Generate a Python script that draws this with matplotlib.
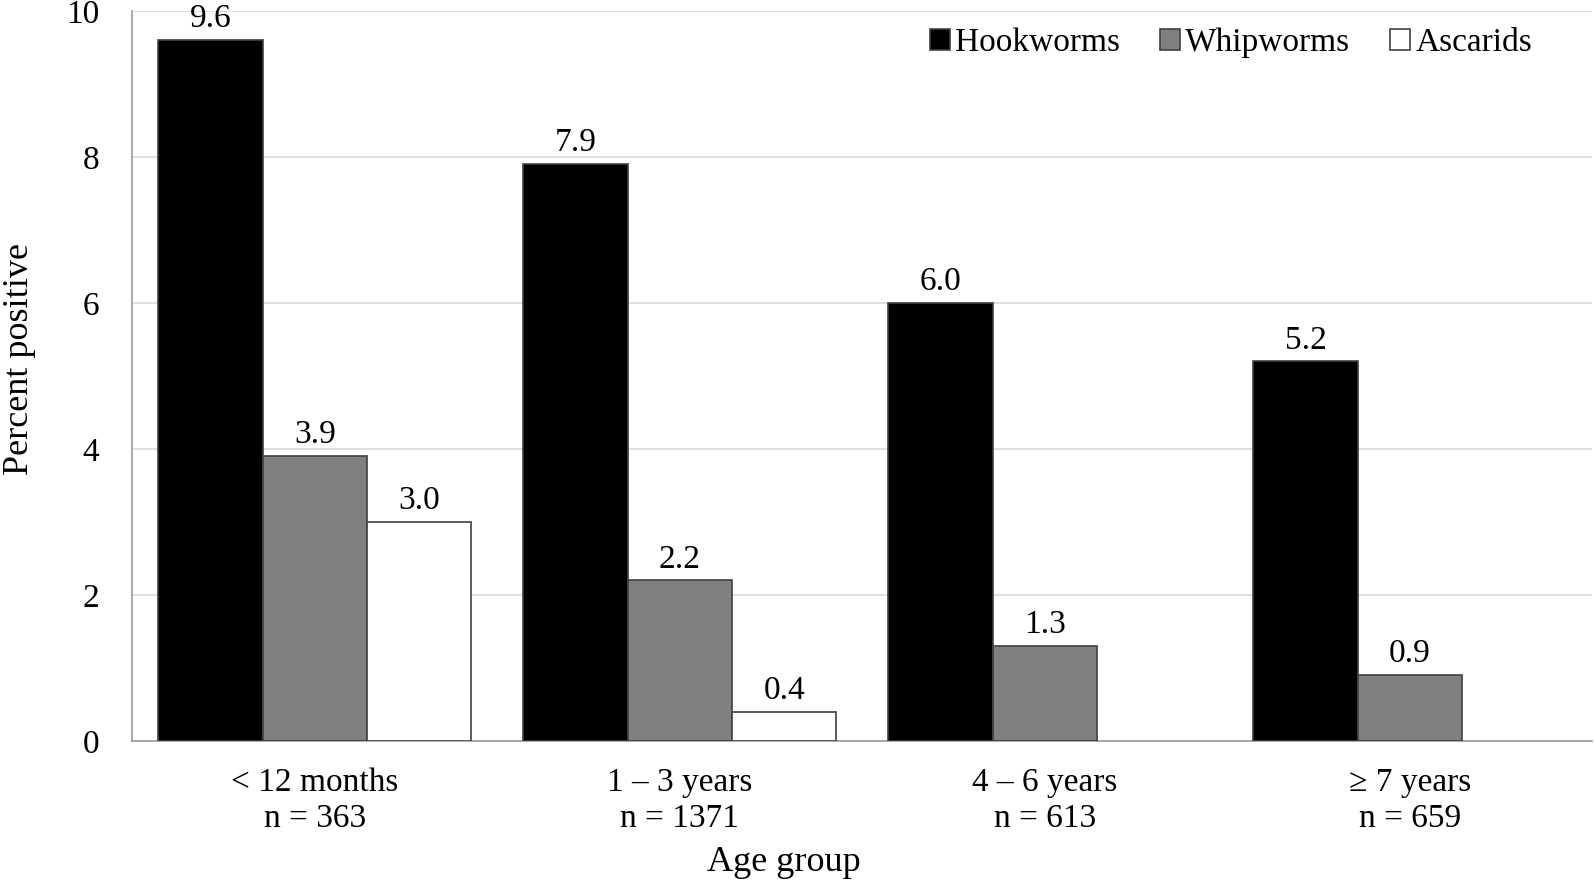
import numpy as np
import matplotlib
matplotlib.use("Agg")
import matplotlib.pyplot as plt

# data
groups = ["< 12 months\nn = 363", "1 \u2013 3 years\nn = 1371", "4 \u2013 6 years\nn = 613", "\u2265 7 years\nn = 659"]
hookworms = [9.6, 7.9, 6.0, 5.2]
whipworms = [3.9, 2.2, 1.3, 0.9]
ascarids = [3.0, 0.4, 0.0, 0.0]

series_names = ["Hookworms", "Whipworms", "Ascarids"]
series_colors = ["#000000", "#808080", "#ffffff"]

plt.rcParams['font.family'] = ['Liberation Serif', 'DejaVu Serif']

fig = plt.figure(figsize=(15.94, 8.81), dpi=100)
ax = fig.add_axes([0.083, 0.159, 0.916, 0.8285])

x = np.arange(len(groups))
w = 1 / 3.5
for i, (vals, name, col) in enumerate(zip([hookworms, whipworms, ascarids], series_names, series_colors)):
    vals = np.array(vals, dtype=float)
    pos = x + (i - 1) * w
    # zero values are not drawn in the original
    heights = np.where(vals > 0, vals, np.nan)
    bars = ax.bar(pos, heights, width=w, color=col, edgecolor="#404040", linewidth=1.2, label=name, zorder=3)
    for b, v in zip(bars, vals):
        if v > 0:
            ax.text(b.get_x() + b.get_width() / 2, v + 0.08, f"{v:.1f}", ha="center", va="bottom", fontsize=24)

ax.set_xlim(-0.5, 3.5)
ax.set_ylim(0, 10)
ax.set_yticks([0, 2, 4, 6, 8, 10])
ax.set_xticks(x)
ax.set_xticklabels(groups, fontsize=24, linespacing=1.25)
ax.tick_params(axis="y", labelsize=24, length=0, pad=24)
ax.tick_params(axis="x", length=0, pad=19)
ax.grid(axis="y", color="#d9d9d9", linewidth=1.2, zorder=0)
for s in ["top", "right"]:
    ax.spines[s].set_visible(False)
for s in ["left", "bottom"]:
    ax.spines[s].set_color("#9a9a9a")
    ax.spines[s].set_linewidth(1.2)

fig.text(0.0125, 0.593, "Percent positive", rotation=90, ha="center", va="center", fontsize=26)
fig.text(0.492, 0.002, "Age group", ha="center", va="bottom", fontsize=26)

ax.legend(loc="upper right", ncol=3, frameon=False, fontsize=24, handlelength=0.6, handleheight=0.6,
          handletextpad=0.15, columnspacing=1.2, bbox_to_anchor=(0.97, 1.0), borderaxespad=0.1)

fig.savefig("out.png", dpi=100)
